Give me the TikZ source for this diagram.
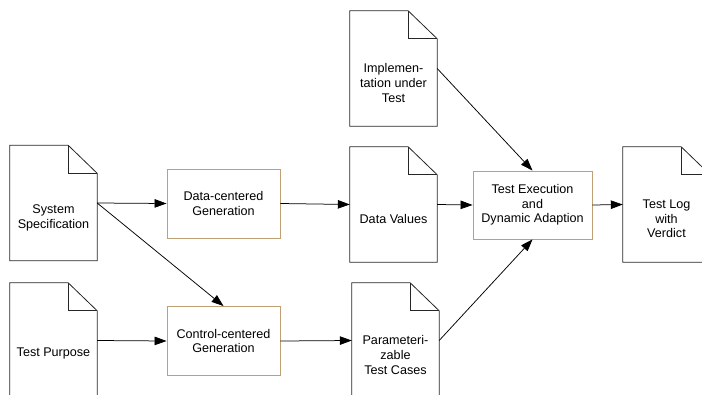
\documentclass[tikz,border=0pt]{standalone}
\usepackage{fontspec}
\setmainfont{Liberation Sans}
\usetikzlibrary{arrows.meta}
\definecolor{boxc}{RGB}{191,160,118}
\tikzset{
 docbody/.style={minimum width=87pt, minimum height=115pt, inner sep=0pt, draw=none},
 txt/.style={font=\fontsize{12.6}{14.7}\selectfont},
 doctext/.style={txt, align=center, inner sep=0pt},
 procbox/.style={txt, draw=boxc, line width=0.9pt, minimum width=113pt, minimum height=69pt, align=center, inner sep=0pt},
 docline/.style={draw=black!85, line width=0.8pt},
 conn/.style={line width=0.75pt, -{Triangle[length=12pt,width=8.5pt]}},
}
\newcommand\drawdoc[1]{%
 \draw[docline] (#1.north west) -- ([xshift=-29pt]#1.north east) -- ([yshift=-28pt]#1.north east) -- (#1.south east) -- (#1.south west) -- cycle;
 \draw[docline] ([xshift=-29pt]#1.north east) |- ([yshift=-28pt]#1.north east);
}
\begin{document}
\begin{tikzpicture}[x=1pt,y=-1pt]
\useasboundingbox (0,0) rectangle (702,394);
\clip (0,0) rectangle (702,394);
% documents
\node[docbody] (spec) at (53.5,203) {};
\node[doctext] (spect) at (53.5,218) {System\\Specification};
\node[docbody] (purp) at (53.5,340.5) {};
\node[doctext] (purpt) at (53.5,353) {Test Purpose};
\node[docbody] (impl) at (393.5,68.5) {};
\node[doctext] (implt) at (393.5,83) {Implemen-\\tation under\\Test};
\node[docbody] (dval) at (393.5,204.5) {};
\node[doctext] (dvalt) at (393.5,219) {Data Values};
\node[docbody] (param) at (395.5,340.5) {};
\node[doctext] (paramt) at (395.5,355) {Parameteri-\\zable\\Test Cases};
\node[docbody] (log) at (666.5,204.5) {};
\node[doctext] (logt) at (666.5,219) {Test Log\\with\\Verdict};
\drawdoc{spec}
\drawdoc{purp}
\drawdoc{impl}
\drawdoc{dval}
\drawdoc{param}
\drawdoc{log}
% process boxes
\node[procbox] (dgen) at (223.5,203.5) {Data-centered\\Generation};
\node[procbox] (cgen) at (223.5,341) {Control-centered\\Generation};
\node[procbox, minimum width=119pt, minimum height=68pt] (exec) at (532.5,205) {Test Execution\\and\\Dynamic Adaption};
% connectors
\draw[conn] (spec.east) -- (dgen.west);
\draw[conn] (spec.east) -- (cgen.north);
\draw[conn] (purp.east) -- (cgen.west);
\draw[conn] (dgen.east) -- (dval.west);
\draw[conn] (cgen.east) -- (param.west);
\draw[conn] (dval.east) -- (exec.west);
\draw[conn] (impl.east) -- (exec.north);
\draw[conn] (param.east) -- (exec.south);
\draw[conn] (exec.east) -- (log.west);
\end{tikzpicture}
\end{document}
